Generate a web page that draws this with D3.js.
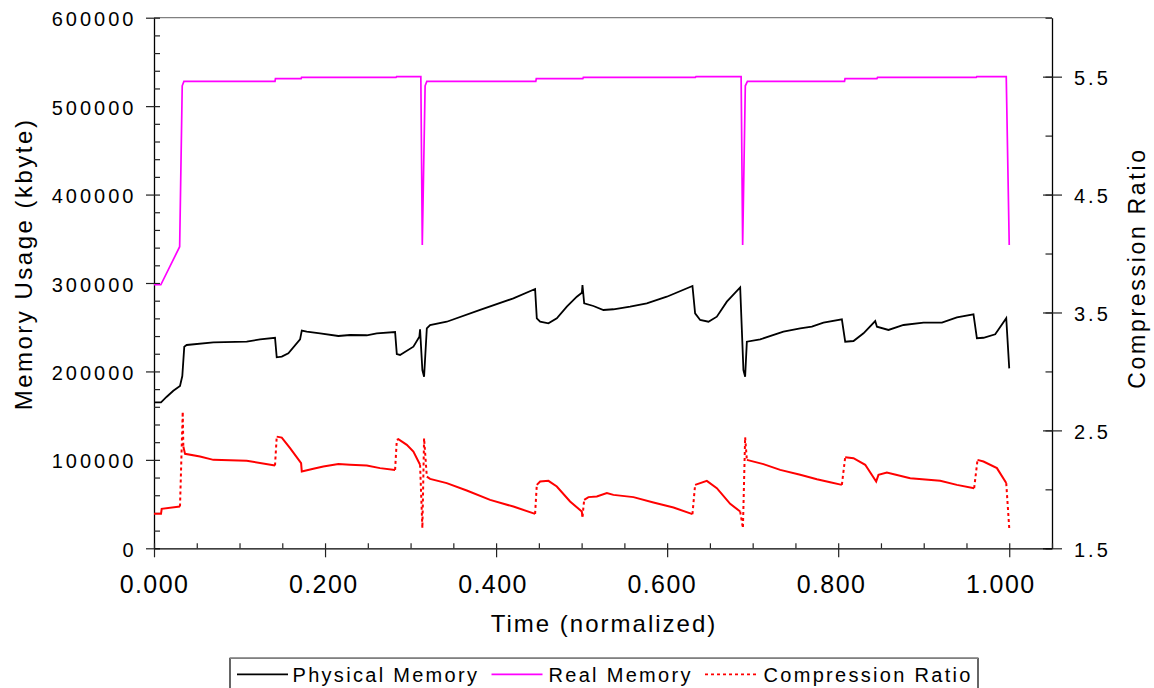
<!DOCTYPE html>
<html>
<head>
<meta charset="utf-8">
<script src="https://cdn.jsdelivr.net/npm/d3@7"></script>
<style>
  body { margin: 0; background: #fff; }
  svg text { font-family: "Liberation Sans", Arial, sans-serif; fill: #000; }
</style>
</head>
<body>
<script>
// Physical Memory (kbyte) over normalized time
var physT = [0, 0.0082, 0.0149, 0.0226, 0.0304, 0.0331, 0.0354, 0.0382, 0.0694, 0.1084, 0.124, 0.1415,
  0.1435, 0.1494, 0.1571, 0.1708, 0.1728, 0.1786, 0.1942, 0.2156, 0.2292, 0.2488, 0.2605, 0.2819,
  0.2839, 0.2877, 0.3033, 0.3103, 0.3111, 0.3138, 0.3158, 0.319, 0.3228, 0.3423, 0.3813, 0.4202, 0.4456,
  0.4476, 0.4515, 0.4612, 0.471, 0.4827, 0.4944, 0.5003, 0.501, 0.503, 0.5138, 0.5255, 0.5372, 0.5567,
  0.5762, 0.5996, 0.6296, 0.6327, 0.6386, 0.6483, 0.6581, 0.6698, 0.6854, 0.6892, 0.6912, 0.6932, 0.7088,
  0.736, 0.7556, 0.7692, 0.7828, 0.8043, 0.8082, 0.8179, 0.8296, 0.8433, 0.8453, 0.8588, 0.8764, 0.8998,
  0.9213, 0.9388, 0.9582, 0.9622, 0.9699, 0.9836, 0.9965, 1.0];
var physVal = [165100, 165100, 171400, 178200, 183500, 194800, 228000, 229900, 232900, 233600, 236300, 238100,
  216000, 216700, 220500, 236300, 246100, 244900, 243100, 240100, 241200, 240900, 243100, 244600,
  219700, 218600, 228000, 239300, 247600, 201600, 194000, 248800, 252500, 256200, 269500, 282700, 293200,
  260100, 256200, 254400, 260100, 273200, 284500, 289000, 297700, 277000, 274000, 269500, 270300, 273200,
  277000, 284500, 296600, 265700, 258200, 256200, 261900, 278900, 295100, 201600, 194000, 233600, 236300,
  244900, 248800, 250600, 255100, 258900, 233600, 234400, 243100, 257000, 250600, 246900, 252500, 255100,
  255100, 261200, 264600, 237500, 238100, 242000, 260100, 203500];

// Real Memory (kbyte)
var realT = [0, 0.008, 0.030, 0.033, 0.035, 0.1415, 0.142, 0.172, 0.1725, 0.283, 0.2836, 0.312,
  0.3137, 0.317, 0.319, 0.4464, 0.447, 0.5014, 0.502, 0.633, 0.6337, 0.6865,
  0.6883, 0.6914, 0.6939, 0.8074, 0.808, 0.8453, 0.846, 0.9614, 0.962, 0.9965, 1.0];
var realVal = [298000, 298000, 341000, 523000, 528000, 528000, 531000, 531000, 532500, 532500, 533300, 533300,
  343000, 523000, 528000, 528000, 531000, 531000, 532500, 532500, 533300, 533300,
  343000, 523000, 528000, 528000, 531000, 531000, 532500, 532500, 533300, 533300, 343000];

// Compression Ratio (right axis)
var ratioT = [0, 0.0082, 0.009, 0.0304, 0.0336, 0.0343, 0.0363, 0.0538, 0.0694, 0.1084, 0.1415,
  0.1435, 0.1494, 0.1591, 0.172, 0.1728, 0.1863, 0.198, 0.2156, 0.2292, 0.2488, 0.2643, 0.2819,
  0.2839, 0.2857, 0.2956, 0.3033, 0.3111, 0.3138, 0.3158, 0.319, 0.3228, 0.3423, 0.3657, 0.393, 0.4202, 0.4456,
  0.4476, 0.4515, 0.4612, 0.471, 0.4865, 0.5002, 0.501, 0.503, 0.508, 0.5178, 0.5295, 0.5372, 0.5606, 0.584,
  0.6074, 0.6296, 0.6327, 0.6464, 0.6581, 0.6737, 0.6854, 0.6886, 0.6912, 0.6932, 0.7126, 0.7322, 0.7556,
  0.7751, 0.7906, 0.8043, 0.8082, 0.8179, 0.8316, 0.8444, 0.8471, 0.8569, 0.8842, 0.9193, 0.9388, 0.959,
  0.9629, 0.9699, 0.9856, 0.9965, 1.0];
var ratioVal = [1.792, 1.792, 1.835, 1.854, 2.659, 2.363, 2.301, 2.278, 2.25, 2.242, 2.202,
  2.447, 2.439, 2.349, 2.222, 2.151, 2.174, 2.193, 2.214, 2.208, 2.202, 2.18, 2.165,
  2.419, 2.425, 2.377, 2.32, 2.208, 1.671, 2.434, 2.108, 2.089, 2.053, 1.99, 1.911, 1.854, 1.792,
  2.038, 2.066, 2.072, 2.024, 1.897, 1.812, 1.769, 1.911, 1.934, 1.939, 1.968, 1.953, 1.934, 1.888,
  1.846, 1.79, 2.038, 2.072, 2.01, 1.877, 1.812, 1.671, 2.442, 2.25, 2.214, 2.165, 2.123,
  2.086, 2.061, 2.038, 2.273, 2.264, 2.208, 2.066, 2.123, 2.142, 2.095, 2.072, 2.038, 2.01,
  2.25, 2.236, 2.18, 2.053, 1.671];

// ticks
var xMajor = [0, 0.2, 0.4, 0.6, 0.8, 1.0];
var yLeftMajor = [0, 100000, 200000, 300000, 400000, 500000, 600000];
var yRightMajor = [1.5, 2.5, 3.5, 4.5, 5.5];
var seriesNames = ["Physical Memory", "Real Memory", "Compression Ratio"];

var W = 1154, H = 688;
var plotL = 154, plotT = 17.7, plotR = 1052, plotB = 548.3;

var svg = d3.select("body").append("svg")
  .attr("width", W)
  .attr("height", H);

var x = d3.scaleLinear().domain([0, 1.05]).range([plotL, plotR]);
var yL = d3.scaleLinear().domain([0, 600000]).range([plotB, plotT]);
var yR = d3.scaleLinear().domain([1.5, 6.0]).range([plotB, plotT]);

// top border
svg.append("line")
  .attr("x1", plotL).attr("x2", plotR)
  .attr("y1", plotT).attr("y2", plotT)
  .attr("stroke", "#808080").attr("stroke-width", 1.2);

// left axis: majors crossing, minors inside
var gl = svg.append("g").attr("transform", `translate(${plotL},0)`);
gl.call(d3.axisLeft(yL).tickValues(yLeftMajor).tickSize(8).tickSizeOuter(0).tickFormat(d3.format("d")));
gl.selectAll("text")
  .attr("x", -17.5).attr("dy", "0.4em")
  .style("font-size", "20px").style("letter-spacing", "3px");
svg.append("g").attr("transform", `translate(${plotL},0)`)
  .call(d3.axisRight(yL).tickValues(d3.range(0, 600001, 20000)).tickSize(6).tickFormat(""))
  .select(".domain").remove();

// right axis
var gr = svg.append("g").attr("transform", `translate(${plotR},0)`);
gr.call(d3.axisRight(yR).tickValues(yRightMajor).tickSize(10).tickSizeOuter(0).tickFormat(d3.format(".1f")));
gr.selectAll("text")
  .attr("x", 22).attr("dy", "0.4em")
  .style("font-size", "20px").style("letter-spacing", "3px");
svg.append("g").attr("transform", `translate(${plotR},0)`)
  .call(d3.axisLeft(yR).tickValues(d3.range(1.5, 6.01, 0.5)).tickSize(6.5).tickFormat(""))
  .select(".domain").remove();
svg.append("g").attr("transform", `translate(${plotR},0)`)
  .call(d3.axisLeft(yR).tickValues(yRightMajor).tickSize(9).tickFormat(""))
  .select(".domain").remove();

// bottom axis (labels drift a little left of their ticks in the original)
var gb = svg.append("g").attr("transform", `translate(0,${plotB})`);
gb.call(d3.axisBottom(x).tickValues(xMajor).tickSize(9).tickSizeOuter(0).tickFormat(d3.format(".3f")));
gb.selectAll("text")
  .attr("x", d => -d * 9)
  .attr("y", 27).attr("dy", "0.71em")
  .style("font-size", "25px").style("letter-spacing", "1.4px");
svg.append("g").attr("transform", `translate(0,${plotB})`)
  .call(d3.axisTop(x).tickValues(d3.range(0, 1.0501, 0.05)).tickSize(5).tickFormat(""))
  .select(".domain").remove();

svg.selectAll(".domain").attr("stroke", "#000").attr("stroke-width", 1.3);
svg.selectAll(".tick line").attr("stroke", "#222").attr("stroke-width", 1.2);

// axis titles
svg.append("text")
  .attr("x", 604).attr("y", 632.3)
  .attr("text-anchor", "middle")
  .style("font-size", "24px").style("letter-spacing", "2px")
  .text("Time (normalized)");

svg.append("text")
  .attr("transform", "translate(32,264) rotate(-90)")
  .attr("text-anchor", "middle")
  .style("font-size", "24px").style("letter-spacing", "2.5px")
  .text("Memory Usage (kbyte)");

svg.append("text")
  .attr("transform", "translate(1145,268) rotate(-90)")
  .attr("text-anchor", "middle")
  .style("font-size", "23px").style("letter-spacing", "2.7px")
  .text("Compression Ratio");

// series
var lineL = d3.line().x(d => x(d[0])).y(d => yL(d[1]));
var lineR = d3.line().x(d => x(d[0])).y(d => yR(d[1]));

var physData = physT.map((t, i) => [t, physVal[i]]);
var realData = realT.map((t, i) => [t, realVal[i]]);
var ratioData = ratioT.map((t, i) => [t, ratioVal[i]]);

svg.append("path")
  .datum(realData)
  .attr("d", lineL)
  .attr("fill", "none")
  .attr("stroke", "#ff00ff")
  .attr("stroke-width", 1.7);

svg.append("path")
  .datum(physData)
  .attr("d", lineL)
  .attr("fill", "none")
  .attr("stroke", "#000")
  .attr("stroke-width", 1.8);

// the ratio line: steep jumps come out dotted, the rest looks solid
var runs = [];
for (var i = 1; i < ratioData.length; i++) {
  var a = ratioData[i - 1], b = ratioData[i];
  var dx = x(b[0]) - x(a[0]), dy = yR(b[1]) - yR(a[1]);
  var dotted = Math.abs(dy) > 9 && Math.abs(dy) > 2 * Math.abs(dx);
  var last = runs[runs.length - 1];
  if (last && last.dotted === dotted) last.pts.push(b);
  else runs.push({dotted: dotted, pts: [a, b]});
}
svg.selectAll(".ratio")
  .data(runs)
  .enter().append("path")
  .attr("class", "ratio")
  .attr("d", d => lineR(d.pts))
  .attr("fill", "none")
  .attr("stroke", "#ff0000")
  .attr("stroke-width", 2)
  .attr("stroke-dasharray", d => d.dotted ? "3,3" : null);

// legend
var lg = svg.append("g");
lg.append("rect")
  .attr("x", 230).attr("y", 658.3)
  .attr("width", 748).attr("height", 50)
  .attr("fill", "#fff").attr("stroke", "#000").attr("stroke-width", 1.2);
lg.append("line")
  .attr("x1", 230).attr("x2", 978).attr("y1", 658.3).attr("y2", 658.3)
  .attr("stroke", "#808080").attr("stroke-width", 1.4);

var legendItems = [
  {name: seriesNames[0], color: "#000", dash: null, x0: 237, tx: 292.5},
  {name: seriesNames[1], color: "#ff00ff", dash: null, x0: 491.5, tx: 548.5},
  {name: seriesNames[2], color: "#ff0000", dash: "3,3", x0: 705, tx: 763.5}
];
legendItems.forEach(function(it) {
  lg.append("line")
    .attr("x1", it.x0).attr("x2", it.x0 + 51)
    .attr("y1", 674.3).attr("y2", 674.3)
    .attr("stroke", it.color).attr("stroke-width", 1.8)
    .attr("stroke-dasharray", it.dash);
  lg.append("text")
    .attr("x", it.tx).attr("y", 682)
    .style("font-size", "20px").style("letter-spacing", "2.3px")
    .text(it.name);
});
</script>
</body>
</html>
